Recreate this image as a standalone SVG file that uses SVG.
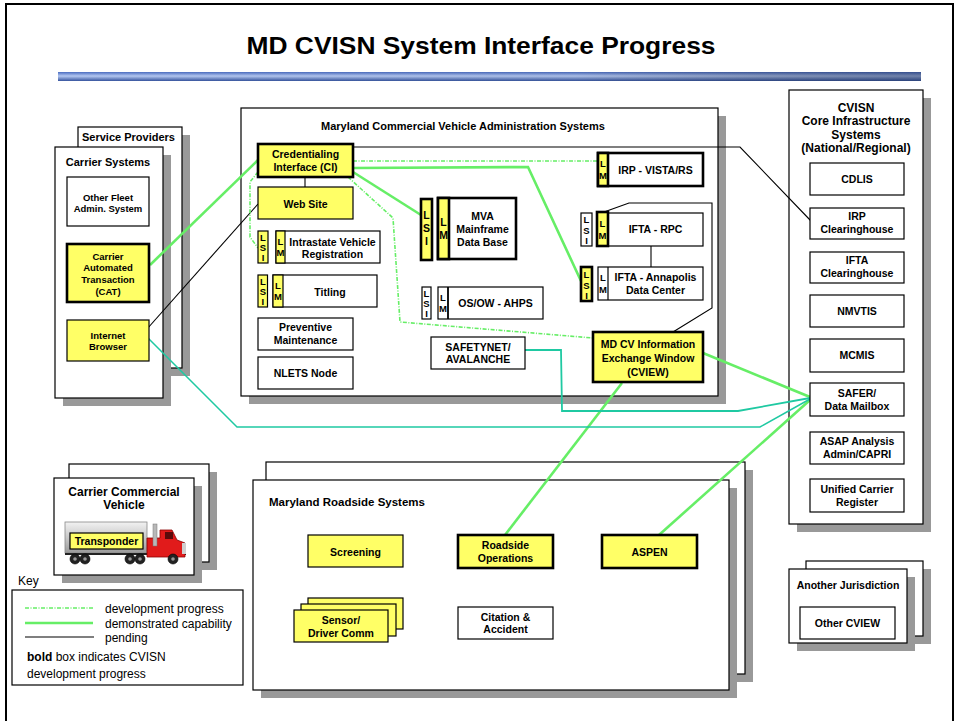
<svg xmlns="http://www.w3.org/2000/svg" width="958" height="721" viewBox="0 0 958 721">
<style>
  .box{fill:#fff;stroke:#000;stroke-width:1.2}
  .yb{fill:#ffff66;stroke:#000;stroke-width:1.2}
  .bold{stroke-width:2.6}
  .sh{fill:#999}
  .t{font-family:"Liberation Sans",Arial,sans-serif;font-weight:bold;font-size:10.5px;text-anchor:middle;fill:#000}
  .s{font-size:9.5px}
  .h{font-size:11px}
  .v{font-family:"Liberation Sans",Arial,sans-serif;font-weight:bold;font-size:9.5px;text-anchor:middle;fill:#000}
  .k{font-family:"Liberation Sans",Arial,sans-serif;font-size:12px;fill:#000}
  .pend{fill:none;stroke:#000;stroke-width:1.1}
  .demo{fill:none;stroke:#66ee66;stroke-width:2.6}
  .dev{fill:none;stroke:#66ee66;stroke-width:1.6;stroke-dasharray:4 1.5 1 1.5}
  .teal{fill:none;stroke:#1fc9a2;stroke-width:1.8}
</style>
<defs>
  <linearGradient id="barV" x1="0" y1="0" x2="0" y2="1">
    <stop offset="0" stop-color="#4a6cc0"/>
    <stop offset="0.45" stop-color="#b4c8f2"/>
    <stop offset="1" stop-color="#36549e"/>
  </linearGradient>
  <linearGradient id="barH" x1="0" y1="0" x2="1" y2="0">
    <stop offset="0" stop-color="#000" stop-opacity="0"/>
    <stop offset="0.6" stop-color="#000" stop-opacity="0.05"/>
    <stop offset="1" stop-color="#1a2a50" stop-opacity="0.45"/>
  </linearGradient>
  <linearGradient id="trailer" x1="0" y1="0" x2="0" y2="1">
    <stop offset="0" stop-color="#f2f2f2"/>
    <stop offset="0.5" stop-color="#c8c8c8"/>
    <stop offset="1" stop-color="#9a9a9a"/>
  </linearGradient>
</defs>

<!-- page frame and heading -->
<rect x="6" y="4" width="947" height="730" fill="#fff" stroke="#000" stroke-width="2"/>
<text x="481" y="54" font-family="Liberation Sans, Arial, sans-serif" font-weight="bold" font-size="23" text-anchor="middle" textLength="469" lengthAdjust="spacingAndGlyphs">MD CVISN System Interface Progress</text>
<rect x="58" y="72" width="863" height="9" fill="url(#barV)"/>
<rect x="58" y="72" width="863" height="9" fill="url(#barH)"/>

<!-- container: service providers / carrier systems -->
<g id="service-providers">
  <rect class="sh" x="86" y="135" width="104" height="241"/>
  <rect class="box" x="78" y="127" width="104" height="241"/>
  <text class="t h" x="128.5" y="141">Service Providers</text>
</g>
<g id="carrier-systems">
  <rect class="sh" x="63" y="155" width="108" height="251"/>
  <rect class="box" x="55" y="147" width="108" height="251"/>
  <text class="t h" x="108" y="166">Carrier Systems</text>
</g>

<!-- container: MD commercial vehicle administration -->
<g id="md-admin-systems">
  <rect class="sh" x="249" y="116" width="477" height="288"/>
  <rect class="box" x="241" y="108" width="477" height="288"/>
  <text class="t h" x="321" y="130" style="text-anchor:start">Maryland Commercial Vehicle Administration Systems</text>
</g>

<!-- container: CVISN core infrastructure -->
<g id="cvisn-core">
  <rect class="sh" x="797" y="98" width="134" height="434"/>
  <rect class="box" x="789" y="90" width="134" height="434"/>
  <text class="t" style="font-size:12px" x="856" y="112">CVISN</text>
  <text class="t" style="font-size:12px" x="856" y="125">Core Infrastructure</text>
  <text class="t" style="font-size:12px" x="856" y="139">Systems</text>
  <text class="t" style="font-size:12px" x="856" y="152">(National/Regional)</text>
</g>

<!-- container: carrier commercial vehicle -->
<g id="carrier-vehicle">
  <rect class="sh" x="77" y="472" width="140" height="98"/>
  <rect class="box" x="69" y="464" width="140" height="98"/>
  <rect class="sh" x="62" y="486" width="140" height="97"/>
  <rect class="box" x="54" y="478" width="140" height="97"/>
  <text class="t" style="font-size:12px" x="124" y="496">Carrier Commercial</text>
  <text class="t" style="font-size:12px" x="124" y="508.5">Vehicle</text>
  <!-- truck -->
  <rect x="65" y="522" width="82" height="31" fill="url(#trailer)" stroke="#888" stroke-width="0.8"/>
  <line x1="65" y1="554" x2="186" y2="554" stroke="#222" stroke-width="2"/>
  <path d="M147,554 L147,538 L160,538 L160,530 L172,530 L177,540 L185,543 L185,557 L147,557 Z" fill="#e11b1b" stroke="#8a0000" stroke-width="0.8"/>
  <rect x="165" y="532" width="8" height="7" fill="#5a0b0b"/>
  <rect x="153" y="524" width="4" height="22" fill="#b8b8b8" stroke="#777" stroke-width="0.5"/>
  <rect x="182" y="543" width="4" height="11" fill="#cfcfcf"/>
  <g fill="#222" stroke="#000" stroke-width="0.6">
    <circle cx="75" cy="559" r="5"/><circle cx="85" cy="559" r="5"/>
    <circle cx="130" cy="559" r="5"/><circle cx="140" cy="559" r="5"/>
    <circle cx="173" cy="559" r="5"/>
  </g>
  <g fill="#999">
    <circle cx="75" cy="559" r="1.8"/><circle cx="85" cy="559" r="1.8"/>
    <circle cx="130" cy="559" r="1.8"/><circle cx="140" cy="559" r="1.8"/>
    <circle cx="173" cy="559" r="1.8"/>
  </g>
</g>
<g id="transponder">
  <rect class="yb" x="70" y="533" width="73" height="16"/>
  <text class="t" x="106.5" y="545">Transponder</text>
</g>

<!-- container: MD roadside systems -->
<g id="md-roadside-systems">
  <rect class="sh" x="274" y="470" width="479" height="212"/>
  <rect class="box" x="266" y="462" width="479" height="212"/>
  <rect class="sh" x="261" y="488" width="476" height="210"/>
  <rect class="box" x="253" y="480" width="476" height="210"/>
  <text class="t" style="font-size:11.5px;text-anchor:start" x="269" y="506">Maryland Roadside Systems</text>
</g>

<!-- container: another jurisdiction -->
<g id="another-jurisdiction">
  <rect class="sh" x="814" y="569" width="117" height="75"/>
  <rect class="box" x="806" y="561" width="117" height="75"/>
  <rect class="sh" x="797" y="577" width="118" height="74"/>
  <rect class="box" x="789" y="569" width="118" height="74"/>
  <text class="t" x="848" y="589">Another Jurisdiction</text>
</g>

<!-- connectors -->
<g id="connectors">
  <!-- pending -->
  <polyline class="pend" points="353,147 740,147 811,221"/>
  <line class="pend" x1="147" y1="329" x2="258" y2="204"/>
  <polyline class="pend" points="604,212 629,203 712,203 712,308 673,332"/>
  <line class="pend" x1="651" y1="246" x2="651" y2="267"/>
  <line class="pend" x1="305" y1="177" x2="305" y2="187"/>
  <!-- development progress -->
  <line class="dev" x1="353" y1="161" x2="598" y2="161"/>
  <polyline class="dev" points="258,172 250,182 250,237 258,248"/>
  <polyline class="dev" points="348,177 393,218 400,322 593,338"/>
  <!-- demonstrated capability -->
  <line class="demo" x1="150" y1="265" x2="258" y2="160"/>
  <line class="demo" x1="353" y1="172" x2="421" y2="215"/>
  <polyline class="demo" points="353,168 528,167 581,281"/>
  <line class="demo" x1="703" y1="353" x2="810" y2="397"/>
  <line class="demo" x1="622" y1="383" x2="505" y2="535"/>
  <line class="demo" x1="659" y1="535" x2="810" y2="400"/>
  <!-- teal links to SAFER -->
  <polyline class="teal" points="525,350 561,350 562,411 738,411 810,398"/>
  <polyline class="teal" points="148,338 237,427 760,427 810,399" style="stroke-width:1.5"/>
</g>

<!-- carrier system nodes -->
<g id="other-fleet">
  <rect class="box" x="67" y="177" width="82" height="49"/>
  <text class="t s" x="108" y="200.5">Other Fleet</text>
  <text class="t s" x="108" y="212">Admin. System</text>
</g>
<g id="cat">
  <rect class="yb bold" x="67" y="244" width="82" height="58"/>
  <text class="t s" x="108" y="259.5">Carrier</text>
  <text class="t s" x="108" y="271">Automated</text>
  <text class="t s" x="108" y="282.5">Transaction</text>
  <text class="t s" x="108" y="294.5">(CAT)</text>
</g>
<g id="internet-browser">
  <rect class="yb" x="67" y="320" width="82" height="41"/>
  <text class="t s" x="108" y="338.5">Internet</text>
  <text class="t s" x="108" y="350">Browser</text>
</g>

<!-- administration nodes -->
<g id="ci">
  <rect class="yb bold" x="258" y="144" width="95" height="33"/>
  <text class="t" x="305.5" y="158">Credentialing</text>
  <text class="t" x="305.5" y="171">Interface (CI)</text>
</g>
<g id="web-site">
  <rect class="yb" x="258" y="187" width="95" height="32"/>
  <text class="t" x="305.5" y="208">Web Site</text>
</g>
<g id="intrastate-registration">
  <rect class="yb" x="258" y="231" width="10" height="32"/>
  <text class="v" x="263" y="241">L</text><text class="v" x="263" y="251">S</text><text class="v" x="263" y="261">I</text>
  <rect class="box" x="276" y="231" width="104" height="32"/>
  <rect class="yb" x="276" y="231" width="9" height="32"/>
  <text class="v" x="280.5" y="245">L</text><text class="v" x="280.5" y="256">M</text>
  <text class="t" x="332.5" y="245.5">Intrastate Vehicle</text>
  <text class="t" x="332.5" y="258">Registration</text>
</g>
<g id="titling">
  <rect class="yb" x="258" y="275" width="9.5" height="32"/>
  <text class="v" x="262.8" y="285">L</text><text class="v" x="262.8" y="295">S</text><text class="v" x="262.8" y="305">I</text>
  <rect class="box" x="273" y="275" width="104" height="32"/>
  <rect class="yb" x="273" y="275" width="10" height="32"/>
  <text class="v" x="278" y="289">L</text><text class="v" x="278" y="300">M</text>
  <text class="t" x="330" y="295.5">Titling</text>
</g>
<g id="preventive-maintenance">
  <rect class="box" x="258" y="318" width="95" height="32"/>
  <text class="t" x="305.5" y="331">Preventive</text>
  <text class="t" x="305.5" y="344">Maintenance</text>
</g>
<g id="nlets-node">
  <rect class="box" x="258" y="357" width="95" height="32"/>
  <text class="t" x="305.5" y="377">NLETS Node</text>
</g>
<g id="mva-mainframe">
  <rect class="yb bold" x="421" y="199" width="11" height="61"/>
  <text class="v" style="font-size:10.5px" x="426.5" y="219">L</text><text class="v" style="font-size:10.5px" x="426.5" y="232">S</text><text class="v" style="font-size:10.5px" x="426.5" y="245">I</text>
  <rect class="box bold" x="438" y="198" width="78" height="61"/>
  <rect class="yb bold" x="438" y="198" width="11" height="61"/>
  <text class="v" style="font-size:10.5px" x="443.5" y="226">L</text><text class="v" style="font-size:10.5px" x="443.5" y="239">M</text>
  <text class="t" x="482.5" y="220">MVA</text>
  <text class="t" x="482.5" y="233">Mainframe</text>
  <text class="t" x="482.5" y="245.5">Data Base</text>
</g>
<g id="osow-ahps">
  <rect class="box" x="422" y="287" width="9" height="32"/>
  <text class="v" x="426.5" y="297">L</text><text class="v" x="426.5" y="307">S</text><text class="v" x="426.5" y="317">I</text>
  <rect class="box" x="438" y="287" width="105" height="32"/>
  <line x1="448" y1="287" x2="448" y2="319" stroke="#000" stroke-width="1.8"/>
  <text class="v" x="443" y="301">L</text><text class="v" x="443" y="312">M</text>
  <text class="t" x="495.5" y="307">OS/OW - AHPS</text>
</g>
<g id="irp-vista">
  <rect class="box bold" x="598" y="153" width="105" height="33"/>
  <rect class="yb bold" x="598" y="153" width="10" height="33"/>
  <text class="v" x="603" y="167">L</text><text class="v" x="603" y="179">M</text>
  <text class="t" x="655.5" y="174">IRP - VISTA/RS</text>
</g>
<g id="ifta-rpc">
  <rect class="box" x="581" y="213" width="11" height="33"/>
  <text class="v" x="586.5" y="223">L</text><text class="v" x="586.5" y="234">S</text><text class="v" x="586.5" y="244">I</text>
  <rect class="box" x="597" y="213" width="106" height="33"/>
  <rect class="yb bold" x="597" y="212" width="11" height="34"/>
  <text class="v" x="602.5" y="227">L</text><text class="v" x="602.5" y="239">M</text>
  <text class="t" x="655.5" y="233">IFTA - RPC</text>
</g>
<g id="ifta-annapolis">
  <rect class="yb bold" x="581" y="267" width="11" height="34"/>
  <text class="v" x="586.5" y="278">L</text><text class="v" x="586.5" y="289">S</text><text class="v" x="586.5" y="299">I</text>
  <rect class="box" x="598" y="267" width="105" height="33"/>
  <line x1="608" y1="267" x2="608" y2="300" stroke="#000" stroke-width="1.2"/>
  <text class="v" x="603" y="281">L</text><text class="v" x="603" y="293">M</text>
  <text class="t" x="655.5" y="281">IFTA - Annapolis</text>
  <text class="t" x="655.5" y="293.7">Data Center</text>
</g>
<g id="safetynet">
  <rect class="box" x="431" y="337" width="94" height="32"/>
  <text class="t" x="478" y="350.5">SAFETYNET/</text>
  <text class="t" x="478" y="363">AVALANCHE</text>
</g>
<g id="cview">
  <rect class="yb bold" x="593" y="332" width="110" height="50"/>
  <text class="t" x="648" y="348">MD CV Information</text>
  <text class="t" x="648" y="362">Exchange Window</text>
  <text class="t" x="648" y="376">(CVIEW)</text>
</g>

<!-- core infrastructure nodes -->
<g id="cdlis">
  <rect class="box" x="810" y="163" width="94" height="32"/>
  <text class="t" x="857" y="183">CDLIS</text>
</g>
<g id="irp-clearinghouse">
  <rect class="box" x="810" y="208" width="94" height="31"/>
  <text class="t" x="857" y="220">IRP</text>
  <text class="t" x="857" y="233">Clearinghouse</text>
</g>
<g id="ifta-clearinghouse">
  <rect class="box" x="810" y="252" width="94" height="31"/>
  <text class="t" x="857" y="264">IFTA</text>
  <text class="t" x="857" y="277">Clearinghouse</text>
</g>
<g id="nmvtis">
  <rect class="box" x="810" y="295" width="94" height="32"/>
  <text class="t" x="857" y="315">NMVTIS</text>
</g>
<g id="mcmis">
  <rect class="box" x="810" y="339" width="94" height="33"/>
  <text class="t" x="857" y="359">MCMIS</text>
</g>
<g id="safer">
  <rect class="box" x="810" y="383" width="94" height="33"/>
  <text class="t" x="857" y="397">SAFER/</text>
  <text class="t" x="857" y="410">Data Mailbox</text>
</g>
<g id="asap">
  <rect class="box" x="810" y="432" width="94" height="32"/>
  <text class="t" x="857" y="444.5">ASAP Analysis</text>
  <text class="t" x="857" y="458">Admin/CAPRI</text>
</g>
<g id="ucr">
  <rect class="box" x="810" y="479" width="94" height="33"/>
  <text class="t" x="857" y="493">Unified Carrier</text>
  <text class="t" x="857" y="506">Register</text>
</g>

<!-- roadside nodes -->
<g id="screening">
  <rect class="yb" x="308" y="535" width="95" height="32"/>
  <text class="t" x="355.5" y="555.5">Screening</text>
</g>
<g id="roadside-operations">
  <rect class="yb bold" x="458" y="535" width="95" height="33"/>
  <text class="t" x="505.5" y="549">Roadside</text>
  <text class="t" x="505.5" y="562">Operations</text>
</g>
<g id="aspen">
  <rect class="yb bold" x="602" y="535" width="95" height="33"/>
  <text class="t" x="649.5" y="555.5">ASPEN</text>
</g>
<g id="sensor-driver-comm">
  <rect class="yb" x="308" y="598" width="95" height="31"/>
  <rect class="yb" x="301" y="604" width="95" height="32"/>
  <rect class="yb" x="294" y="610" width="94" height="32"/>
  <text class="t" x="341" y="624">Sensor/</text>
  <text class="t" x="341" y="636.5">Driver Comm</text>
</g>
<g id="citation-accident">
  <rect class="box" x="458" y="607" width="95" height="32"/>
  <text class="t" x="505.5" y="621">Citation &amp;</text>
  <text class="t" x="505.5" y="633">Accident</text>
</g>

<!-- other jurisdiction node -->
<g id="other-cview">
  <rect class="box" x="800" y="607" width="95" height="32"/>
  <text class="t" x="847.5" y="627">Other CVIEW</text>
</g>

<!-- key -->
<g id="key">
  <text class="k" x="18" y="585">Key</text>
  <rect class="box" x="12" y="590" width="231" height="95"/>
  <line class="dev" x1="25" y1="608" x2="93" y2="608"/>
  <line class="demo" x1="25" y1="623" x2="93" y2="623"/>
  <line class="pend" x1="25" y1="637" x2="94" y2="637"/>
  <text class="k" x="105" y="612.5">development progress</text>
  <text class="k" x="105" y="628">demonstrated capability</text>
  <text class="k" x="105" y="641.5">pending</text>
  <text class="k" x="27" y="661"><tspan font-weight="bold">bold</tspan> box indicates CVISN</text>
  <text class="k" x="27" y="677.5">development progress</text>
</g>
</svg>
